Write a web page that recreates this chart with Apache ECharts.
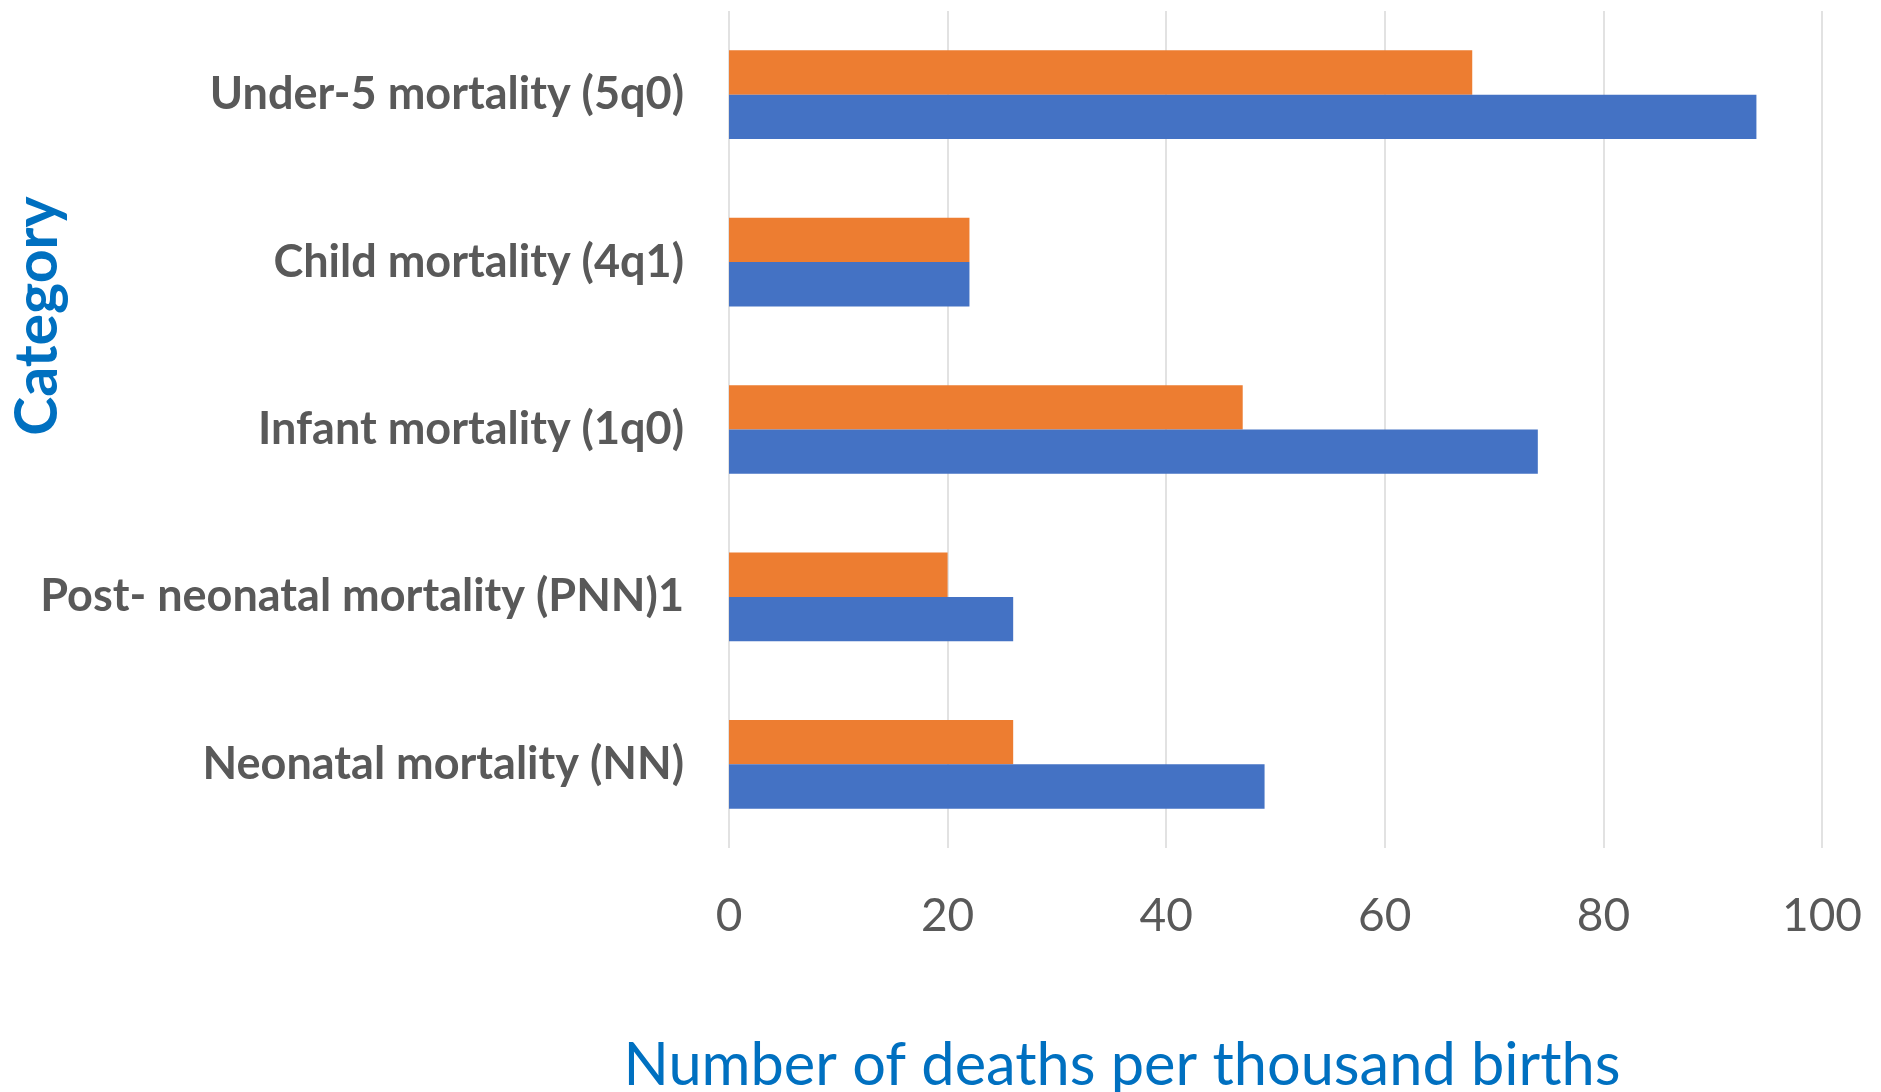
<!DOCTYPE html>
<html>
<head>
<meta charset="utf-8">
<style>
  html, body { margin: 0; padding: 0; background: #ffffff; }
  #chart { width: 1881px; height: 1092px; }
</style>
<script src="https://cdn.jsdelivr.net/npm/echarts@6/dist/echarts.min.js"></script>
</head>
<body>
<div id="chart"></div>
<script>
// Mortality indicators, top to bottom
const categories = [
  'Under-5 mortality (5q0)',
  'Child mortality (4q1)',
  'Infant mortality (1q0)',
  'Post- neonatal mortality (PNN)1',
  'Neonatal mortality (NN)'
];
// Deaths per thousand births
const seriesBlue = [94, 22, 74, 26, 49];
const seriesOrange = [68, 22, 47, 20, 26];
const xTicks = [0, 20, 40, 60, 80, 100];

const FONT = 'Lato, "Open Sans", sans-serif';

const chart = echarts.init(document.getElementById('chart'), null, { renderer: 'canvas' });

chart.setOption({
  backgroundColor: '#ffffff',
  animation: false,
  grid: { left: 729, right: 59, top: 11, bottom: 244, containLabel: false },
  xAxis: {
    type: 'value',
    min: xTicks[0],
    max: xTicks[xTicks.length - 1],
    interval: xTicks[1] - xTicks[0],
    axisLine: { show: false },
    axisTick: { show: false },
    splitLine: { show: true, lineStyle: { color: '#D9D9D9', width: 1.5 } },
    axisLabel: { color: '#595959', fontFamily: FONT, fontSize: 46, margin: 45 }
  },
  yAxis: {
    type: 'category',
    inverse: true,
    data: categories,
    axisLine: { show: false },
    axisTick: { show: false },
    axisLabel: { color: '#595959', fontFamily: FONT, fontSize: 45, fontWeight: 'bold', margin: 45 }
  },
  // orange is listed first so it sits above the blue bar in each pair
  series: [
    {
      name: 'Series 2',
      type: 'bar',
      data: seriesOrange,
      itemStyle: { color: '#ED7D31' },
      barGap: '0%',
      barCategoryGap: '47%'
    },
    {
      name: 'Series 1',
      type: 'bar',
      data: seriesBlue,
      itemStyle: { color: '#4472C4' },
      barGap: '0%',
      barCategoryGap: '47%'
    }
  ],
  graphic: [
    {
      type: 'text',
      x: 1122,
      y: 1066,
      style: {
        text: 'Number of deaths per thousand births',
        fill: '#0070C0',
        font: '59.5px ' + FONT,
        textAlign: 'center',
        textVerticalAlign: 'middle'
      }
    },
    {
      type: 'text',
      x: 38,
      y: 316,
      rotation: Math.PI / 2,
      style: {
        text: 'Category',
        fill: '#0070C0',
        font: 'bold 59px ' + FONT,
        textAlign: 'center',
        textVerticalAlign: 'middle'
      }
    }
  ]
});
</script>
</body>
</html>
